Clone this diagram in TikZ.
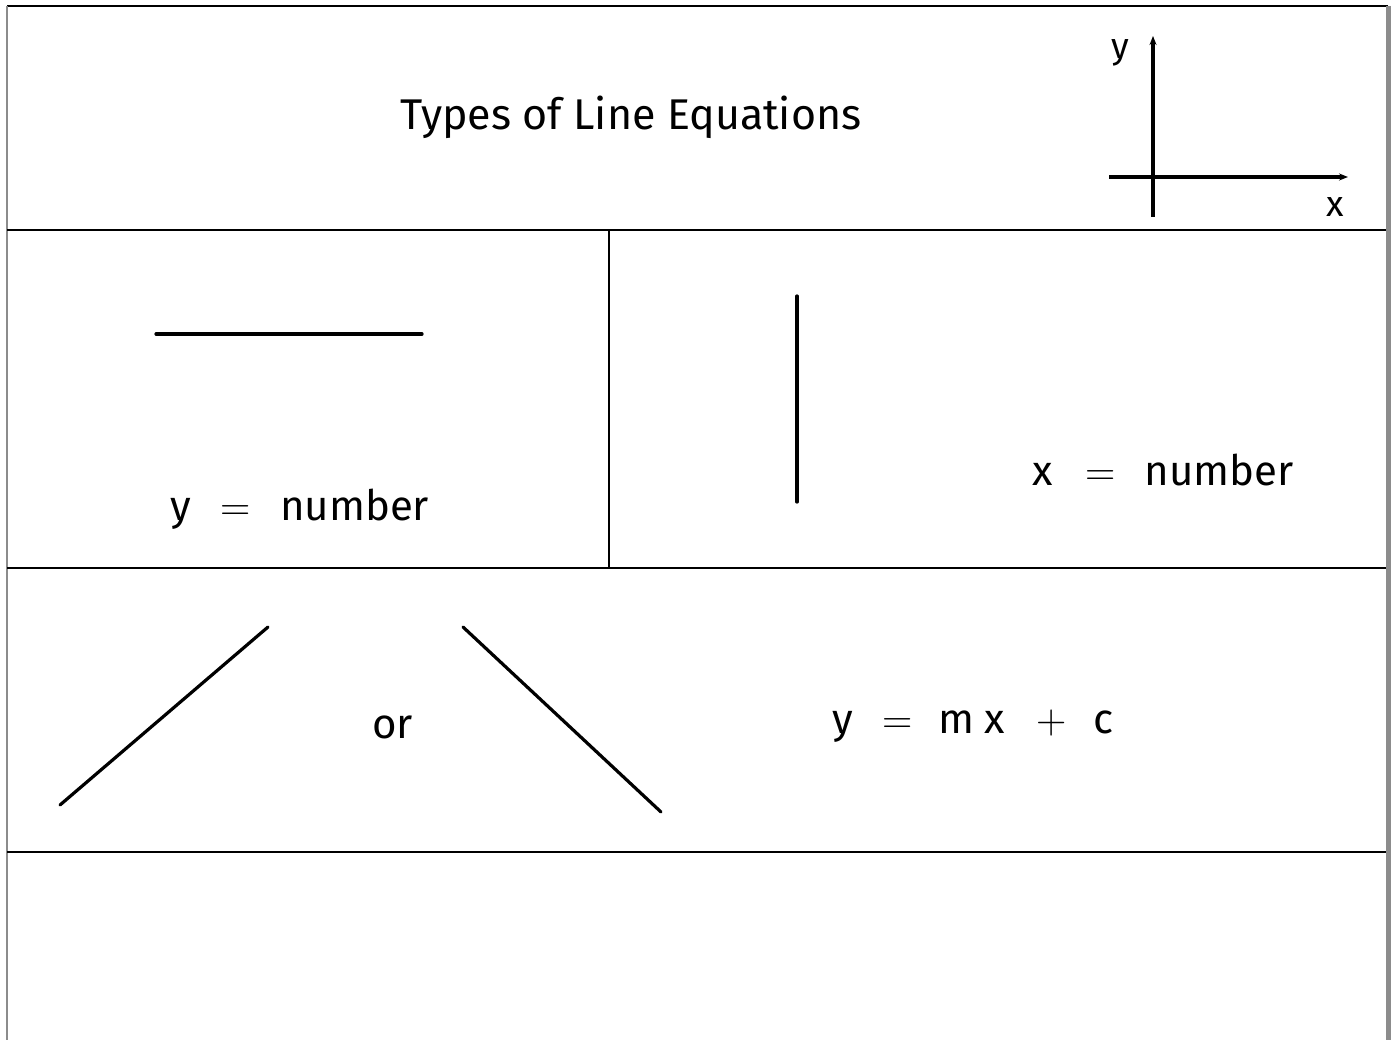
\documentclass[tikz,border=0pt]{standalone}
\usepackage{fontspec}
\setmainfont{Fira Sans}
\newfontfamily\opfont{Latin Modern Roman}
\usetikzlibrary{arrows.meta}

\newcommand{\gap}{\hspace{30pt}}
\newcommand{\op}[1]{{\opfont #1}}

\begin{document}
\begin{tikzpicture}[x=1pt, y=-1pt,
        frame/.style = {line width=2pt},
        edge/.style = {gray!90, line width=2pt},
        graph/.style = {line width=3.2pt, line cap=round},
        axis/.style = {line width=3.2pt, -{Stealth[length=9pt, width=7pt]}},
        title/.style = {font=\fontsize{43}{50}\selectfont, anchor=base},
        eqn/.style = {font=\fontsize{42}{50}\selectfont, anchor=base west, inner sep=0pt},
        lab/.style = {font=\fontsize{36}{40}\selectfont, anchor=base, inner sep=0pt},
      ]
      \useasboundingbox (0,0) rectangle (1396,1040);
      % outer frame and panels
      \draw[frame] (7,6) -- (1388,6);
      \draw[edge] (7,6) -- (7,1040);
      \draw[gray!90, line width=5pt] (1388,6) -- (1388,1040);
      \draw[frame] (7,230) -- (1386,230);
      \draw[frame] (7,568) -- (1386,568);
      \draw[frame] (7,852) -- (1386,852);
      \draw[frame] (609,230) -- (609,568);

      % header
      \node[title] (head) at (631,130) {Types of Line Equations};
      \coordinate (ybot) at (1153,217);
      \coordinate (ytop) at (1153,36);
      \coordinate (xleft) at (1109,177);
      \coordinate (xright) at (1348,177);
      \draw[axis] (ybot) -- (ytop);
      \draw[axis] (xleft) -- (xright);
      \node[lab] (ylab) at (1120,59) {y};
      \node[lab] (xlab) at (1335,217) {x};

      % horizontal line
      \coordinate (h1) at (156,334);
      \coordinate (h2) at (422,334);
      \draw[graph] (h1) -- (h2);
      \node[eqn] (yeq) at (170,520) {y\gap\op{=}\hspace{29pt}number};

      % vertical line
      \coordinate (v1) at (797,296);
      \coordinate (v2) at (797,502);
      \draw[graph] (v1) -- (v2);
      \node[eqn] (xeq) at (1032,485) {x\hspace{33pt}\op{=}\hspace{29pt}number};

      % sloped lines
      \coordinate (p1) at (60,805);
      \coordinate (p2) at (268,627);
      \coordinate (n1) at (463,627);
      \coordinate (n2) at (661,812);
      \draw[graph] (p1) -- (p2);
      \draw[graph] (n1) -- (n2);
      \node[eqn] (or) at (372,738) {or};
      \node[eqn] (mxc) at (832,733) {y\gap\op{=}\hspace{25pt}m\hspace{10pt}x\hspace{32pt}\op{+}\hspace{27pt}c};
    \end{tikzpicture}
\end{document}
